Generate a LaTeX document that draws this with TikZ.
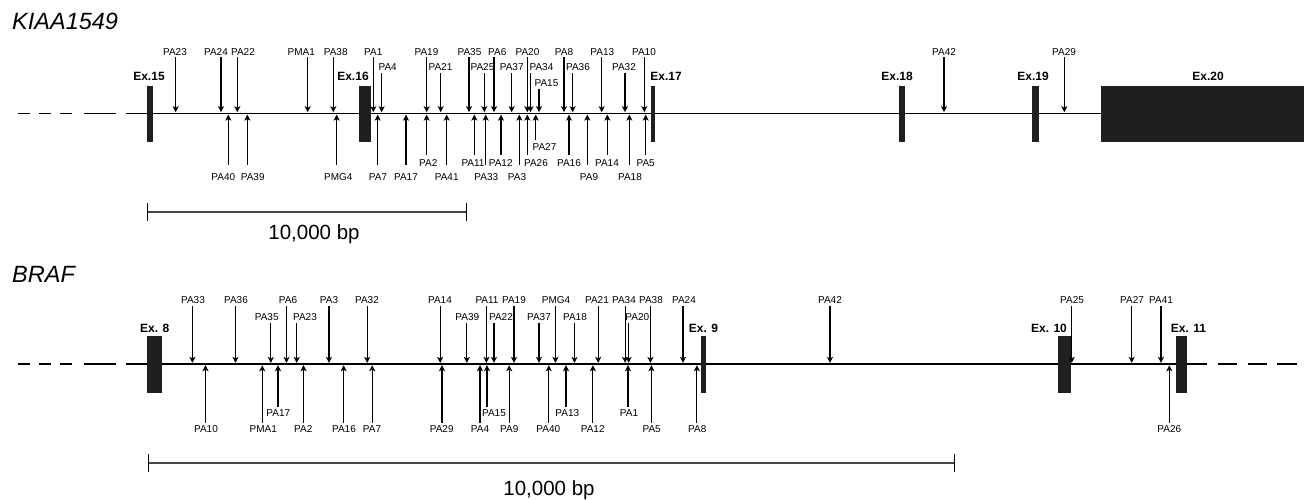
\documentclass[tikz,border=0pt]{standalone}
\usepackage{fontspec}
\setmainfont{Liberation Sans}
\usetikzlibrary{arrows.meta}
\tikzset{
  lbl/.style={font=\fontsize{10}{12}\selectfont, inner sep=0pt},
  exlbl/.style={font=\fontsize{12}{14}\selectfont\bfseries, inner sep=0pt, anchor=base},
  exon/.style={fill=black!88, draw=none},
  marker/.style={line width=1.1pt, -{Stealth[width=6pt,length=6pt,inset=1.5pt]}},
  gene/.style={line width=1.4pt},
  genedash/.style={line width=1.4pt},
  genetitle/.style={font=\fontsize{23.5}{28}\selectfont\itshape, anchor=base west, inner sep=0pt},
  barlbl/.style={font=\fontsize{20.5}{24}\selectfont, anchor=base, inner sep=0pt},
  sbar/.style={line width=2.2pt, draw=black!72},
  stick/.style={line width=1pt},
}
\begin{document}
\begin{tikzpicture}[x=1pt,y=-1pt]
\useasboundingbox (0,0) rectangle (1304,499);

% ---------- titles ----------
\node[genetitle] (t1) at (12,29) {KIAA1549};
\node[genetitle] (t2) at (12,282) {BRAF};

% ---------- KIAA1549 gene line ----------
\coordinate (k0) at (126,113.3);
\coordinate (k1) at (1101,113.3);
\draw[gene] (k0) -- (k1);
\foreach \a/\b [count=\i] in {18/30,39/51,60/72,84/116}{
  \coordinate (kl\i a) at (\a,113.3); \coordinate (kl\i b) at (\b,113.3);
  \draw[genedash] (kl\i a) -- (kl\i b);
}

% exons
\fill[exon] (147,86) rectangle (153,142);
\fill[exon] (359,86) rectangle (371,142);
\fill[exon] (651,86) rectangle (654.5,142);
\fill[exon] (899,86) rectangle (905,142);
\fill[exon] (1032,86) rectangle (1039,142);
\fill[exon] (1101,86) rectangle (1304,142);
\node[exlbl] (e15) at (149,80) {Ex.15};
\node[exlbl] (e16) at (353,80) {Ex.16};
\node[exlbl] (e17) at (666,80) {Ex.17};
\node[exlbl] (e18) at (897,80) {Ex.18};
\node[exlbl] (e19) at (1033,80) {Ex.19};
\node[exlbl] (e20) at (1208,80) {Ex.20};

% down markers (above the line)
\foreach \n/\ax/\lx/\r [count=\i] in {
  PA23/175.7/175/1, PA24/221/216/1, PA22/237.3/243/1, PMA1/307.7/301.3/1,
  PA38/333.3/335.7/1, PA1/373.3/373.3/1, PA4/381.7/387.7/2, PA19/426.7/426.5/1,
  PA21/440.7/440.5/2, PA35/469/469.5/1, PA25/484.3/482.5/2, PA6/494/497.3/1,
  PA37/511.7/511.7/2, PA20/527.3/527.5/1, PA34/530.5/541.5/2, PA15/539/546.5/3,
  PA8/564/564/1, PA36/572.7/578/2, PA13/601.7/602.3/1, PA32/625/624/2,
  PA10/644.3/644/1, PA42/944/944/1, PA29/1064.3/1064/1}{
  \pgfmathsetmacro\ly{{51.7,67,82.7}[\r-1]}
  \pgfmathsetmacro\sy{{57.3,73,88.5}[\r-1]}
  \node[lbl] (kd\i) at (\lx,\ly) {\n};
  \coordinate (kds\i) at (\ax,\sy);
  \coordinate (kdt\i) at (\ax,112.2);
  \draw[marker] (kds\i) -- (kdt\i);
}

% up markers (below the line)
\foreach \n/\ax/\lx/\r [count=\i] in {
  PA40/228.3/223.3/3, PA39/247.3/252.7/3, PMG4/336.7/338.3/3, PA7/377.7/378/3,
  PA17/406/406/3, PA2/426.7/428.3/2, PA41/446.7/446.7/3, PA11/474.3/473/2,
  PA33/485.7/486.3/3, PA12/501/500.7/2, PA3/519.3/517/3, PA26/527.3/536/2,
  PA27/535.7/544.5/1, PA16/569/569/2, PA9/587.3/589/3, PA14/607.3/607/2,
  PA18/629.3/630/3, PA5/645.7/645.7/2}{
  \pgfmathsetmacro\ly{{147.3,162.7,176.7}[\r-1]}
  \pgfmathsetmacro\ey{{140,155,165}[\r-1]}
  \node[lbl] (ku\i) at (\lx,\ly) {\n};
  \coordinate (kus\i) at (\ax,\ey);
  \coordinate (kut\i) at (\ax,114.6);
  \draw[marker] (kus\i) -- (kut\i);
}

% scale bar 1
\coordinate (s1a) at (147,212);
\coordinate (s1b) at (466,212);
\draw[sbar] (s1a) -- (s1b);
\draw[stick] ([yshift=9pt]s1a) -- ([yshift=-9pt]s1a);
\draw[stick] ([yshift=9pt]s1b) -- ([yshift=-9pt]s1b);
\node[barlbl] (s1l) at (314,239.3) {10,000 bp};

% ---------- BRAF gene line ----------
\coordinate (b0) at (126,364);
\coordinate (b1) at (1207,364);
\draw[gene] (b0) -- (b1);
\foreach \a/\b [count=\i] in {18/30,39/51,60/72,84/116,1218/1237,1248/1267,1277/1297}{
  \coordinate (bl\i a) at (\a,364); \coordinate (bl\i b) at (\b,364);
  \draw[genedash] (bl\i a) -- (bl\i b);
}

\fill[exon] (147.3,336) rectangle (161.7,392.5);
\fill[exon] (701,336) rectangle (706,392.5);
\fill[exon] (1058.3,336) rectangle (1070.7,392.5);
\fill[exon] (1175.7,336) rectangle (1186.7,392.5);
\node[exlbl] (e8) at (154.7,332.7) {Ex. 8};
\node[exlbl] (e9) at (703.5,332.7) {Ex. 9};
\node[exlbl] (e10) at (1049,332.7) {Ex. 10};
\node[exlbl] (e11) at (1188.5,332.7) {Ex. 11};

\foreach \n/\ax/\lx/\r [count=\i] in {
  PA33/192.4/193/1, PA36/235.5/236/1, PA35/270.8/266.7/2, PA6/286.5/288/1,
  PA23/296.7/305/2, PA3/329/329/1, PA32/367.2/367/1, PA14/440.2/440/1,
  PA39/466.8/467.3/2, PA11/486.4/487/1, PA22/494/501/2, PA19/514/514/1,
  PA37/539/539/2, PMG4/555.4/556/1, PA18/574.5/575/2, PA21/598.2/597/1,
  PA34/625.1/624/1, PA20/628.6/637.3/2, PA38/650.4/651/1, PA24/683/684/1,
  PA42/830/830/1, PA25/1071.7/1072/1, PA27/1131.7/1132/1, PA41/1161/1161/1}{
  \pgfmathsetmacro\ly{{300,316.7}[\r-1]}
  \pgfmathsetmacro\sy{{306,322.7}[\r-1]}
  \node[lbl] (bd\i) at (\lx,\ly) {\n};
  \coordinate (bds\i) at (\ax,\sy);
  \coordinate (bdt\i) at (\ax,362.9);
  \draw[marker] (bds\i) -- (bdt\i);
}

\foreach \n/\ax/\lx/\r [count=\i] in {
  PA10/205.5/206/2, PMA1/262.3/263.3/2, PA17/278/278.3/1, PA2/303.5/303.3/2,
  PA16/343.6/344/2, PA7/372.2/372/2, PA29/442/441.7/2, PA4/480/480/2,
  PA15/487/494/1, PA9/509.2/509.3/2, PA40/548.8/548.3/2, PA13/566/567.3/1,
  PA12/592.9/592.7/2, PA1/628/629/1, PA5/651.4/651.7/2, PA8/696.9/697.3/2,
  PA26/1169.3/1169.3/2}{
  \pgfmathsetmacro\ly{{412.7,429.3}[\r-1]}
  \pgfmathsetmacro\ey{{406.7,423}[\r-1]}
  \node[lbl] (bu\i) at (\lx,\ly) {\n};
  \coordinate (bus\i) at (\ax,\ey);
  \coordinate (but\i) at (\ax,365.2);
  \draw[marker] (bus\i) -- (but\i);
}

% scale bar 2
\coordinate (s2a) at (148,463);
\coordinate (s2b) at (954,463);
\draw[sbar] (s2a) -- (s2b);
\draw[stick] ([yshift=9pt]s2a) -- ([yshift=-9pt]s2a);
\draw[stick] ([yshift=9pt]s2b) -- ([yshift=-9pt]s2b);
\node[barlbl] (s2l) at (549,495.5) {10,000 bp};
\end{tikzpicture}
\end{document}
